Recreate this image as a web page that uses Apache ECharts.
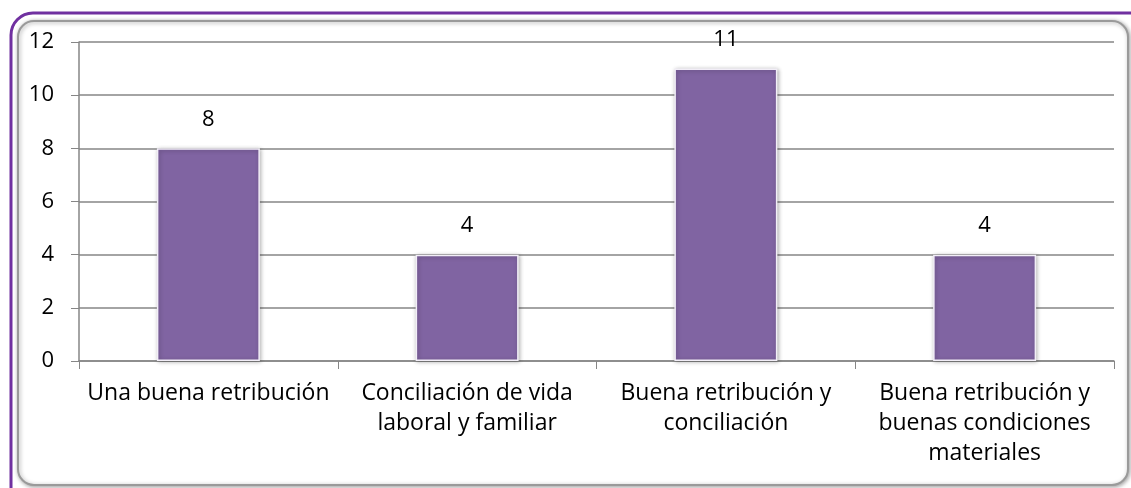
<!DOCTYPE html>
<html>
<head>
<meta charset="utf-8">
<script src="https://cdn.jsdelivr.net/npm/echarts@6/dist/echarts.min.js"></script>
<style>
  html, body { margin: 0; padding: 0; background: #fff; }
  #main { width: 1131px; height: 488px; }
</style>
</head>
<body>
<div id="main"></div>
<script>
// datos
var categorias = ['Una buena retribución', 'Conciliación de vida\nlaboral y familiar', 'Buena retribución y\nconciliación', 'Buena retribución y\nbuenas condiciones\nmateriales'];
var valores = [8, 4, 11, 4];
var fuente = '"Open Sans"';

var myChart = echarts.init(document.getElementById('main'));

var option = {
    animation: false,
    backgroundColor: '#fff',
    graphic: [{
        // marco morado
        type: 'rect',
        z: -10,
        shape: { x: 11, y: 13, width: 1140, height: 500, r: 22 },
        style: { fill: 'none', stroke: '#7030a0', lineWidth: 3 }
    }, {
        // marco interior gris con sombra
        type: 'rect',
        z: -9,
        shape: { x: 18, y: 21, width: 1110, height: 464, r: 16 },
        style: {
            fill: '#fff', stroke: '#9a9a9a', lineWidth: 2,
            shadowColor: 'rgba(0,0,0,0.35)', shadowBlur: 4, shadowOffsetX: 1, shadowOffsetY: 1
        }
    }],
    grid: { left: 79, right: 17, top: 42, bottom: 127 },
    xAxis: {
        type: 'category',
        data: categorias,
        axisLine: { lineStyle: { color: '#868686', width: 1.5 } },
        axisTick: { show: true, length: 8, lineStyle: { color: '#868686' } },
        axisLabel: {
            color: '#000', fontFamily: fuente, fontSize: 23, lineHeight: 30,
            margin: 17, interval: 0
        }
    },
    yAxis: {
        type: 'value',
        min: 0, max: 12, interval: 2,
        axisLine: { show: true, lineStyle: { color: '#868686', width: 1.5 } },
        axisTick: { show: true, length: 8, lineStyle: { color: '#868686' } },
        axisLabel: { color: '#000', fontFamily: fuente, fontSize: 22, margin: 25 },
        splitLine: { lineStyle: { color: '#868686', width: 1.5 } }
    },
    series: [{
        type: 'bar',
        data: valores,
        barWidth: 103,
        itemStyle: {
            color: '#8064a2',
            borderColor: '#f2eef7', borderWidth: 1.5,
            shadowColor: 'rgba(0,0,0,0.3)', shadowBlur: 4, shadowOffsetX: 1, shadowOffsetY: 1
        },
        label: {
            show: true, position: 'top', distance: 18,
            color: '#000', fontFamily: fuente, fontSize: 22
        }
    }]
};

myChart.setOption(option);
</script>
</body>
</html>
